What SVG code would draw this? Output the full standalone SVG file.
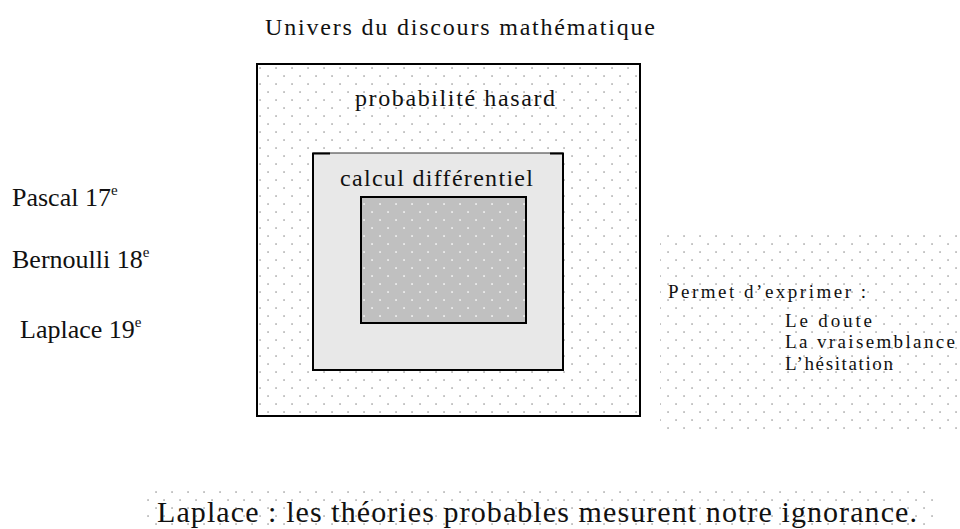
<svg xmlns="http://www.w3.org/2000/svg" width="960" height="529" viewBox="0 0 960 529">
<defs>
<pattern id="dots" width="16" height="16" patternUnits="userSpaceOnUse">
<rect x="3.3" y="3.3" width="1.5" height="1.5" fill="#a0a0a0"/>
<rect x="11.3" y="11.3" width="1.5" height="1.5" fill="#a0a0a0"/>
</pattern>
<pattern id="wdots" width="16" height="16" patternUnits="userSpaceOnUse">
<rect width="16" height="16" fill="#c0c0c0"/>
<rect x="3.3" y="3.3" width="1.5" height="1.5" fill="#ffffff"/>
<rect x="11.3" y="11.3" width="1.5" height="1.5" fill="#ffffff"/>
</pattern>
</defs>
<style>
text{font-family:"Liberation Serif","Times New Roman",serif;fill:#111;}
.t24{font-size:24px;}
.t26{font-size:26px;}
.t19{font-size:19px;}
.sup{font-size:15px;}
.box{stroke:#000;stroke-width:2;}
</style>
<rect width="960" height="529" fill="#fff"/>
<g id="title"><text class="t24" x="265" y="35" textLength="390" lengthAdjust="spacing">Univers du discours mathématique</text></g>
<g id="univers">
<rect class="box" x="257" y="64" width="383" height="352" fill="url(#dots)"/>
<text class="t24" x="355" y="106" textLength="200" lengthAdjust="spacing">probabilité hasard</text>
</g>
<g id="calcul">
<rect x="313" y="153" width="250" height="217" fill="#e8e8e8" stroke="none"/>
<path d="M313 153 V370 H563 V153" fill="none" stroke="#000" stroke-width="2"/>
<path d="M313 153 H563" fill="none" stroke="#333" stroke-width="1"/>
<path d="M312 153.5 H330 M550 153.5 H564" fill="none" stroke="#000" stroke-width="2"/>
<text class="t24" x="340" y="186" textLength="193" lengthAdjust="spacing">calcul différentiel</text>
</g>
<g id="noyau">
<rect class="box" x="361" y="197" width="165" height="126" fill="url(#wdots)"/>
</g>
<g id="auteurs">
<text class="t26" x="12" y="206">Pascal 17<tspan class="sup" dy="-11">e</tspan></text>
<text class="t26" x="12" y="268">Bernoulli 18<tspan class="sup" dy="-11">e</tspan></text>
<text class="t26" x="20" y="338">Laplace 19<tspan class="sup" dy="-11">e</tspan></text>
</g>
<g id="permet">
<rect x="660" y="229" width="300" height="201" fill="url(#dots)"/>
<text class="t19" x="668" y="298" textLength="198" lengthAdjust="spacing">Permet d’exprimer :</text>
<text class="t19" x="785" y="327" textLength="87" lengthAdjust="spacing">Le doute</text>
<text class="t19" x="785" y="348" textLength="170" lengthAdjust="spacing">La vraisemblance</text>
<text class="t19" x="785" y="370" textLength="108" lengthAdjust="spacing">L’hésitation</text>
</g>
<g id="citation">
<rect x="145" y="487" width="792" height="42" fill="url(#dots)"/>
<text x="157" y="522" font-size="30" textLength="760" lengthAdjust="spacing">Laplace : les théories probables mesurent notre ignorance.</text>
</g>
</svg>
